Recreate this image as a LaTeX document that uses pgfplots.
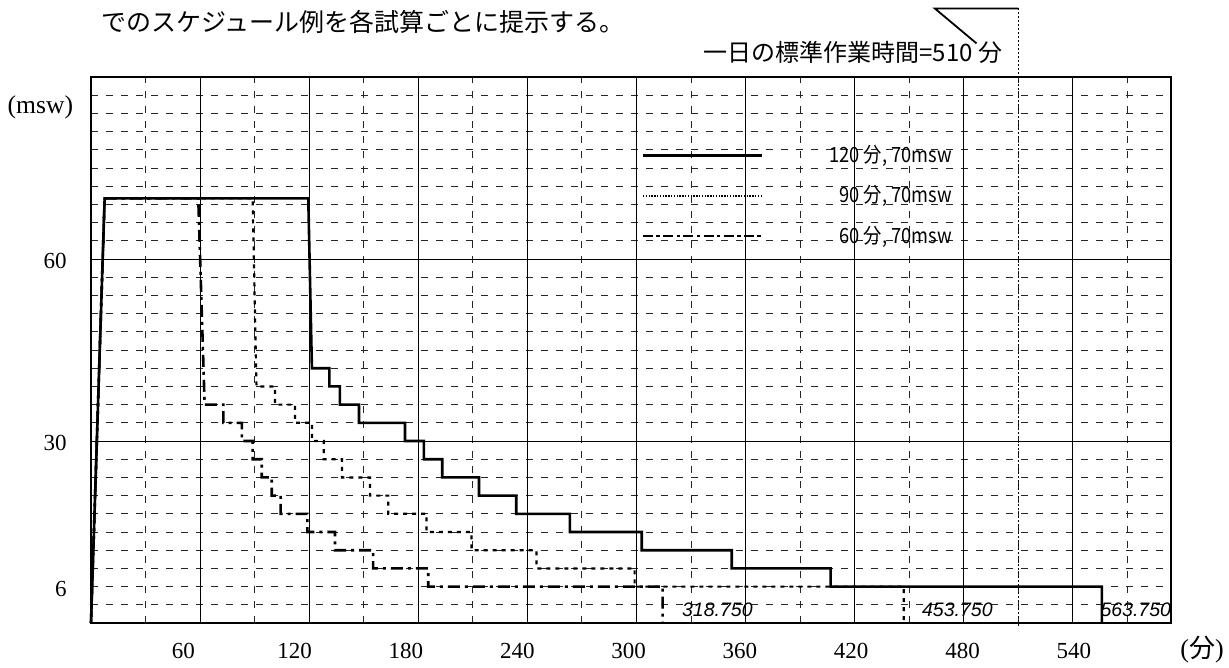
\documentclass[border=0pt]{standalone}
\usepackage{fontspec}
\usepackage{pgfplots}
\pgfplotsset{compat=1.18}
\setmainfont{Liberation Serif}
\newfontfamily\jp{Noto Sans CJK JP}
\newfontfamily\legfont[FakeStretch=0.87]{Noto Sans CJK JP}
\newfontfamily\arial{Liberation Sans}
\tikzset{
  s120/.style={black, line width=1.3bp},
  s90/.style={black, line width=1.1bp, dash pattern=on 2bp off 2.5bp},
  s60/.style={black, line width=1.3bp, dash pattern=on 6bp off 2.5bp on 1.5bp off 2.5bp},
  l120/.style={black, line width=1.4bp},
  l90/.style={black, line width=0.9bp, dash pattern=on 0.7bp off 0.7bp},
  l60/.style={black, line width=1.3bp, dash pattern=on 5bp off 1.7bp on 1.7bp off 1.7bp},
}
\begin{document}
\begin{tikzpicture}
\path[use as bounding box] (0,0) rectangle (614.5bp,-334bp);
\begin{axis}[
  at={(45.5bp,-311.5bp)}, anchor=south west,
  scale only axis, width=540bp, height=273bp,
  xmin=0, xmax=594, ymin=0, ymax=90,
  clip=false,
  axis line style={black, line width=0.6bp},
  major tick length=0, minor tick length=0,
  ytick={30,60},
  minor ytick={3,6,...,87},
  extra y ticks={6},
  extra y tick style={grid=none},
  xtick={50.76,111.98,173.21,234.44,295.66,356.89,418.11,479.34,540.57},
  xticklabels={60,120,180,240,300,360,420,480,540},
  minor xtick={30,90,...,570},
  extra x ticks={60,120,...,540},
  extra x tick style={grid=major, xticklabel={}},
  xmajorgrids=false, xminorgrids=true, ymajorgrids=true, yminorgrids=true,
  major grid style={black, line width=0.5bp},
  minor grid style={black!85, line width=0.5bp, dash pattern=on 3.5bp off 4bp},
  ticklabel style={font=\fontsize{11.5bp}{13bp}\selectfont, inner sep=0},
  yticklabel style={anchor=east, xshift=-12bp, yshift=-1bp},
  xticklabel style={anchor=north, yshift=-10bp},
  /pgf/number format/assume math mode=true,
  legend style={at={(0.797,0.7824)}, anchor=east, draw=none, fill=none,
    inner sep=0, outer sep=0, row sep=10bp, column sep=33bp,
    font=\legfont\fontsize{10.5bp}{12bp}\selectfont, nodes={inner sep=0}},
  legend cell align=right,
  legend image code/.code={\draw[#1] (0bp,0bp) -- (59.5bp,0bp);},
]
% 120 min, 70 msw
\addplot[s120, forget plot] coordinates {
(0,0) (7.5,70) (119.5,70) (121.5,42) (131.1,42) (131.1,39) (136.9,39) (136.9,36)
(147.4,36) (147.4,33) (172.7,33) (172.7,30) (183.1,30) (183.1,27) (193.2,27) (193.2,24)
(213.4,24) (213.4,21) (233.9,21) (233.9,18) (263.4,18) (263.4,15) (302.9,15) (302.9,12)
(352.4,12) (352.4,9) (406.8,9) (406.8,6) (556,6) (556,0)};
% 90 min, 70 msw
\addplot[s90, forget plot] coordinates {
(0,0) (7.5,70) (88.9,70) (91,39) (101.2,39) (101.2,36) (112.2,36) (112.2,33)
(121.5,33) (121.5,30) (128,30) (128,27) (138,27) (138,24) (153.5,24) (153.5,21)
(163.5,21) (163.5,18) (184.5,18) (184.5,15) (209.3,15) (209.3,12) (245,12) (245,9)
(299,9) (299,6) (447,6) (447,0)};
% 60 min, 70 msw
\addplot[s60, forget plot] coordinates {
(0,0) (7.5,70) (59,70) (62.5,36) (72.8,36) (72.8,33) (83,33) (83,30)
(88.9,30) (88.9,27) (93.9,27) (93.9,24) (99.4,24) (99.4,21) (104.3,21) (104.3,18)
(119,18) (119,15) (134.2,15) (134.2,12) (155.2,12) (155.2,9) (185.5,9) (185.5,6)
(314.4,6) (314.4,0)};
\addlegendimage{l120}\addlegendentry{120 分, 70msw}
\addlegendimage{l90}\addlegendentry{90 分, 70msw}
\addlegendimage{l60}\addlegendentry{60 分, 70msw}
\node[anchor=west, inner sep=0, font=\arial\itshape\fontsize{9.75bp}{11bp}\selectfont] at (axis cs:324.9,2.2) {318.750};
\node[anchor=west, inner sep=0, font=\arial\itshape\fontsize{9.75bp}{11bp}\selectfont] at (axis cs:456.9,2.2) {453.750};
\node[anchor=west, inner sep=0, font=\arial\itshape\fontsize{9.75bp}{11bp}\selectfont] at (axis cs:555.0,2.2) {563.750};
\draw[black, line width=0.5bp, dash pattern=on 0.8bp off 1.2bp] (axis cs:510,101.3) -- (axis cs:510,-0.9);
\draw[black, line width=0.9bp] (axis cs:510,101.3) -- (axis cs:464.1,101.3) -- (axis cs:487,95.55);
\end{axis}
\node[anchor=west, inner sep=0, font=\jp\fontsize{12.5bp}{14bp}\selectfont] at (50.5bp,-11bp) {でのスケジュール例を各試算ごとに提示する。};
\node[anchor=west, inner sep=0, font=\jp\fontsize{12bp}{14bp}\selectfont] at (351.5bp,-26.25bp) {一日の標準作業時間=510 分};
\node[anchor=west, inner sep=0, font=\fontsize{12.8bp}{14bp}\selectfont] at (3.65bp,-53.75bp) {(msw)};
\node[anchor=west, inner sep=0, font=\fontsize{13bp}{15bp}\selectfont] at (590bp,-325bp) {({\jp 分})};
\end{tikzpicture}
\end{document}
